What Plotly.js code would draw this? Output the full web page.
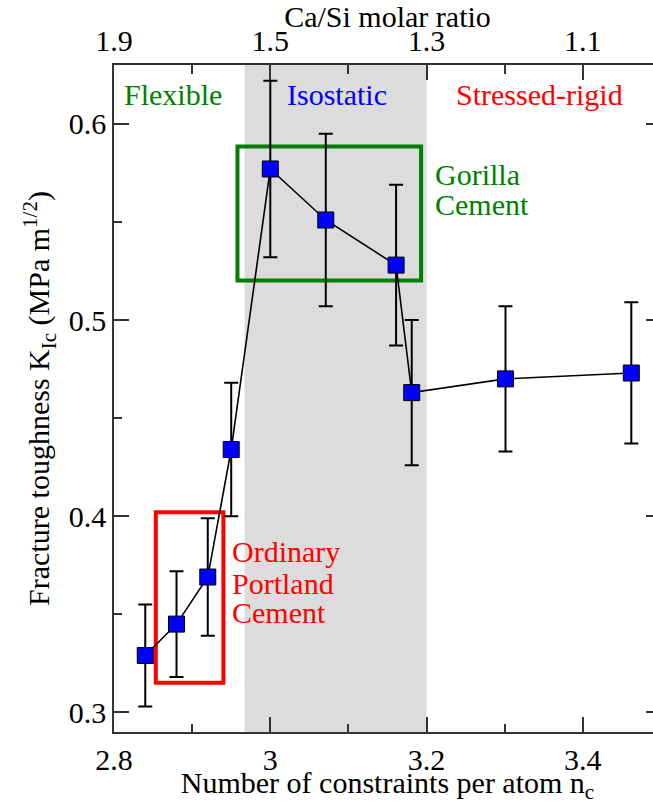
<!DOCTYPE html>
<html>
<head>
<meta charset="utf-8">
<style>
html, body { margin: 0; padding: 0; overflow: hidden; background: #fff; }
#chart { width: 670px; height: 804px; }
</style>
<script src="https://cdn.plot.ly/plotly-3.0.1.min.js"></script>
</head>
<body>
<div id="chart"></div>
<script>
// Data
const constraintsPerAtom = [2.840, 2.880, 2.920, 2.950, 3.000, 3.071, 3.161, 3.181, 3.301, 3.462];
const toughness = [0.329, 0.345, 0.369, 0.434, 0.577, 0.551, 0.528, 0.463, 0.470, 0.473];
const toughnessErr = [0.026, 0.027, 0.030, 0.034, 0.045, 0.044, 0.041, 0.037, 0.037, 0.036];

const bottomTickVals = [2.8, 3.0, 3.2, 3.4];
const bottomTickText = ['2.8', '3', '3.2', '3.4'];
const topTickText = ['1.9', '1.5', '1.3', '1.1'];
const minorXTicks = [2.9, 3.1, 3.3];

const isostaticRange = [2.967, 3.2];
const gorillaBoxX = [2.958, 3.193];
const gorillaBoxY = [0.5201, 0.5884];
const opcBoxX = [2.8535, 2.940];
const opcBoxY = [0.3151, 0.4020];

const regionLabels = ['Flexible', 'Isostatic', 'Stressed-rigid'];
const gorillaLines = ['Gorilla', 'Cement'];
const opcLines = ['Ordinary', 'Portland', 'Cement'];

const FONT = 'Liberation Serif';
const GREEN = '#008000';
const RED = '#ff0000';
const BLUE = '#0000ff';

const traces = [
  {
    x: constraintsPerAtom,
    y: toughness,
    type: 'scatter',
    mode: 'lines+markers',
    line: { color: '#000', width: 1.6 },
    marker: { symbol: 'square', size: 16, color: BLUE, line: { color: '#000', width: 1 } },
    error_y: { type: 'data', array: toughnessErr, visible: true, color: '#000', thickness: 2, width: 7 },
    showlegend: false
  },
  {
    x: [bottomTickVals[0]],
    y: [toughness[0]],
    xaxis: 'x2',
    type: 'scatter',
    mode: 'markers',
    marker: { opacity: 0 },
    showlegend: false,
    hoverinfo: 'skip'
  }
];

const xRange = [2.8, 3.5];

function axisBase() {
  return {
    showline: true,
    linecolor: '#333',
    linewidth: 1.5,
    ticks: 'inside',
    ticklen: 15,
    tickwidth: 1.5,
    tickcolor: '#333',
    showgrid: false,
    zeroline: false,
    tickfont: { family: FONT, size: 30, color: '#000' }
  };
}

const xaxis = axisBase();
Object.assign(xaxis, {
  range: xRange,
  tickmode: 'array',
  tickvals: bottomTickVals,
  ticktext: bottomTickText,
  minor: { tickmode: 'array', tickvals: minorXTicks, ticks: 'inside', ticklen: 8, tickwidth: 1.5, tickcolor: '#333' },
  title: { text: 'Number of constraints per atom n<sub>c</sub>', font: { family: FONT, size: 30, color: '#000' }, standoff: 6 }
});

const xaxis2 = axisBase();
Object.assign(xaxis2, {
  range: xRange,
  overlaying: 'x',
  side: 'top',
  anchor: 'y',
  tickmode: 'array',
  tickvals: bottomTickVals,
  ticktext: topTickText,
  minor: { tickmode: 'array', tickvals: minorXTicks, ticks: 'inside', ticklen: 9, tickwidth: 1.5, tickcolor: '#333' },
  title: { text: 'Ca/Si molar ratio', font: { family: FONT, size: 30, color: '#000' }, standoff: 2 }
});

const yaxis = axisBase();
Object.assign(yaxis, {
  range: [0.29, 0.63],
  tickmode: 'linear',
  tick0: 0.3,
  dtick: 0.1,
  tickformat: '.1f',
  mirror: 'ticks',
  minor: { tickmode: 'linear', tick0: 0.35, dtick: 0.1, ticks: 'inside', ticklen: 8, tickwidth: 1.5, tickcolor: '#333' },
  title: { text: 'Fracture toughness K<sub>Ic</sub> (MPa m<sup>1/2</sup>)', font: { family: FONT, size: 30, color: '#000' }, standoff: 10 }
});

const annSpecs = [
  { text: regionLabels[0], x: 2.8115, y: 0.6148, color: GREEN },
  { text: regionLabels[1], x: 3.0197, y: 0.6148, color: BLUE },
  { text: regionLabels[2], x: 3.2359, y: 0.6148, color: RED },
  { text: gorillaLines[0], x: 3.2093, y: 0.574, color: GREEN },
  { text: gorillaLines[1], x: 3.2093, y: 0.5587, color: GREEN },
  { text: opcLines[0], x: 2.9492, y: 0.3819, color: RED },
  { text: opcLines[1], x: 2.9492, y: 0.3658, color: RED },
  { text: opcLines[2], x: 2.9492, y: 0.3508, color: RED }
];

const layout = {
  width: 670,
  height: 804,
  margin: { l: 114, r: 9, t: 65, b: 72 },
  paper_bgcolor: '#fff',
  plot_bgcolor: '#fff',
  font: { family: FONT, size: 30, color: '#000' },
  xaxis: xaxis,
  xaxis2: xaxis2,
  yaxis: yaxis,
  shapes: [
    { type: 'rect', xref: 'x', yref: 'paper', x0: isostaticRange[0], x1: isostaticRange[1], y0: 0, y1: 1,
      fillcolor: '#dcdcdc', line: { width: 0 }, layer: 'below' },
    { type: 'rect', xref: 'x', yref: 'y', x0: gorillaBoxX[0], x1: gorillaBoxX[1], y0: gorillaBoxY[0], y1: gorillaBoxY[1],
      line: { color: GREEN, width: 4 }, fillcolor: 'rgba(0,0,0,0)', layer: 'below' },
    { type: 'rect', xref: 'x', yref: 'y', x0: opcBoxX[0], x1: opcBoxX[1], y0: opcBoxY[0], y1: opcBoxY[1],
      line: { color: RED, width: 4 }, fillcolor: 'rgba(0,0,0,0)', layer: 'below' }
  ],
  annotations: annSpecs.map(a => ({
    text: a.text, x: a.x, y: a.y, xref: 'x', yref: 'y',
    xanchor: 'left', yanchor: 'middle', showarrow: false, borderpad: 0,
    font: { family: FONT, size: 30, color: a.color }
  }))
};

Plotly.newPlot('chart', traces, layout, { displayModeBar: false });
</script>
</body>
</html>
